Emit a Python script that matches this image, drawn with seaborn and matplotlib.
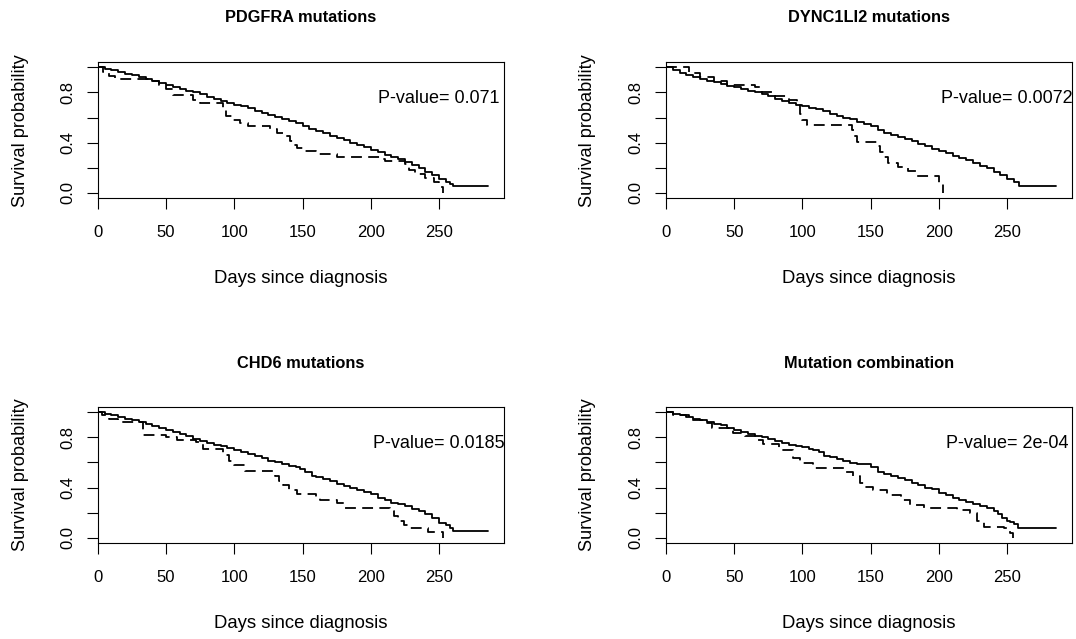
import matplotlib
matplotlib.use("Agg")
import matplotlib.pyplot as plt
import numpy as np
import pandas as pd
import seaborn as sns

# ---------------- data ----------------
titles = ["PDGFRA mutations", "DYNC1LI2 mutations", "CHD6 mutations", "Mutation combination"]
pvalues = ["0.071", "0.0072", "0.0185", "2e-04"]
x_ticks = [0, 50, 100, 150, 200, 250]
y_ticks = [0.0, 0.2, 0.4, 0.6, 0.8, 1.0]
y_tick_labels = ["0.0", "", "0.4", "", "0.8", ""]

# PDGFRA
pdgfra_wt_t = [0, 5, 10, 15, 20, 25, 30, 35, 40, 45, 50, 55, 60, 65, 70, 75, 80, 85, 90, 95, 100, 105, 110, 115,
               120, 125, 130, 135, 140, 145, 150, 155, 160, 165, 170, 175, 180, 185, 190, 195, 200, 205, 210, 215,
               220, 225, 230, 235, 240, 245, 250, 255, 258, 260, 286]
pdgfra_wt_s = [1.0, 0.99, 0.975, 0.96, 0.95, 0.935, 0.92, 0.905, 0.89, 0.875, 0.86, 0.845, 0.83, 0.815, 0.80,
               0.785, 0.765, 0.75, 0.735, 0.72, 0.70, 0.69, 0.675, 0.655, 0.64, 0.62, 0.605, 0.59, 0.575, 0.56,
               0.53, 0.51, 0.49, 0.475, 0.455, 0.44, 0.42, 0.40, 0.385, 0.365, 0.345, 0.325, 0.305, 0.29, 0.27,
               0.245, 0.225, 0.20, 0.17, 0.14, 0.11, 0.09, 0.07, 0.055, 0.055]
pdgfra_mut_t = [0, 4, 8, 13, 40, 45, 50, 55, 70, 75, 92, 94, 98, 104, 110, 126, 131, 138, 141, 144, 146, 152,
                160, 175, 195, 207, 210, 225, 228, 232, 240, 246, 250, 253]
pdgfra_mut_s = [1.0, 0.96, 0.93, 0.91, 0.89, 0.86, 0.83, 0.78, 0.74, 0.72, 0.66, 0.61, 0.58, 0.555, 0.535, 0.51,
                0.48, 0.45, 0.41, 0.38, 0.36, 0.335, 0.31, 0.29, 0.285, 0.27, 0.255, 0.23, 0.18, 0.15, 0.12, 0.09,
                0.05, 0.0]

# DYNC1LI2
dync_wt_t = [0, 5, 10, 15, 20, 25, 30, 35, 40, 45, 50, 55, 60, 65, 70, 75, 80, 85, 90, 95, 100, 105, 110, 115,
             120, 125, 130, 135, 140, 145, 150, 155, 160, 165, 170, 175, 180, 185, 190, 195, 200, 205, 210, 215,
             220, 225, 230, 235, 240, 245, 250, 255, 259, 286]
dync_wt_s = [1.0, 0.98, 0.955, 0.94, 0.925, 0.91, 0.895, 0.88, 0.865, 0.85, 0.84, 0.825, 0.815, 0.80, 0.79,
             0.77, 0.75, 0.735, 0.715, 0.70, 0.69, 0.68, 0.67, 0.65, 0.63, 0.615, 0.60, 0.585, 0.565, 0.55, 0.53,
             0.50, 0.48, 0.465, 0.445, 0.43, 0.41, 0.39, 0.37, 0.35, 0.335, 0.315, 0.295, 0.275, 0.26, 0.24,
             0.215, 0.195, 0.17, 0.145, 0.115, 0.085, 0.055, 0.055]
dync_mut_t = [0, 17, 25, 35, 45, 65, 70, 80, 90, 96, 98, 100, 103, 136, 138, 140, 155, 157, 160, 163, 170, 177,
              184, 200, 203]
dync_mut_s = [1.0, 0.955, 0.92, 0.89, 0.86, 0.84, 0.80, 0.775, 0.74, 0.70, 0.63, 0.58, 0.54, 0.50, 0.45, 0.405,
              0.37, 0.33, 0.29, 0.24, 0.21, 0.175, 0.135, 0.07, 0.0]

# CHD6
chd6_wt_t = [0, 5, 10, 15, 20, 25, 30, 35, 40, 45, 50, 55, 60, 65, 70, 75, 80, 85, 90, 95, 100, 105, 110, 115,
             120, 125, 130, 135, 140, 145, 148, 152, 157, 160, 165, 170, 175, 180, 185, 190, 195, 200, 205, 210,
             215, 220, 225, 230, 235, 240, 245, 250, 255, 258, 260, 286]
chd6_wt_s = [1.0, 0.99, 0.975, 0.96, 0.95, 0.935, 0.92, 0.905, 0.89, 0.875, 0.86, 0.84, 0.825, 0.81, 0.79,
             0.775, 0.755, 0.74, 0.73, 0.715, 0.70, 0.685, 0.67, 0.65, 0.635, 0.615, 0.60, 0.59, 0.575, 0.56,
             0.55, 0.52, 0.49, 0.485, 0.465, 0.45, 0.43, 0.415, 0.40, 0.38, 0.365, 0.345, 0.32, 0.30, 0.28,
             0.265, 0.25, 0.23, 0.21, 0.19, 0.16, 0.12, 0.10, 0.08, 0.055, 0.055]
chd6_mut_t = [0, 3, 8, 15, 33, 50, 58, 72, 77, 92, 96, 100, 108, 130, 133, 136, 140, 146, 160, 163, 175, 180,
              214, 217, 220, 224, 228, 242, 253]
chd6_mut_s = [1.0, 0.98, 0.95, 0.92, 0.82, 0.80, 0.78, 0.76, 0.71, 0.66, 0.61, 0.58, 0.53, 0.49, 0.45, 0.42,
              0.38, 0.35, 0.32, 0.30, 0.28, 0.24, 0.21, 0.17, 0.13, 0.10, 0.075, 0.045, 0.0]

# Mutation combination
combo_wt_t = [0, 5, 10, 15, 20, 25, 30, 35, 40, 45, 50, 55, 60, 65, 70, 75, 80, 85, 90, 95, 100, 105, 108, 112,
              116, 120, 125, 130, 135, 140, 147, 150, 155, 160, 165, 170, 175, 180, 185, 190, 195, 200, 205, 210,
              215, 220, 225, 230, 235, 240, 243, 246, 250, 252, 255, 258, 286]
combo_wt_s = [1.0, 0.985, 0.975, 0.96, 0.95, 0.935, 0.925, 0.91, 0.895, 0.875, 0.86, 0.845, 0.83, 0.815, 0.80,
              0.785, 0.77, 0.755, 0.74, 0.73, 0.72, 0.71, 0.70, 0.68, 0.65, 0.64, 0.625, 0.61, 0.595, 0.588,
              0.585, 0.56, 0.52, 0.505, 0.49, 0.475, 0.46, 0.44, 0.42, 0.40, 0.385, 0.36, 0.34, 0.32, 0.30,
              0.285, 0.265, 0.25, 0.235, 0.215, 0.19, 0.155, 0.135, 0.125, 0.11, 0.08, 0.08]
combo_mut_t = [0, 5, 17, 29, 34, 49, 58, 66, 71, 83, 93, 98, 108, 132, 137, 142, 145, 152, 162, 172, 179, 189,
               213, 223, 228, 233, 248, 252, 254]
combo_mut_s = [1.0, 0.975, 0.935, 0.915, 0.875, 0.835, 0.81, 0.78, 0.75, 0.70, 0.635, 0.595, 0.555, 0.525, 0.49,
               0.44, 0.405, 0.38, 0.34, 0.30, 0.26, 0.24, 0.22, 0.195, 0.13, 0.085, 0.075, 0.035, 0.0]

curves = [
    (pdgfra_wt_t, pdgfra_wt_s, pdgfra_mut_t, pdgfra_mut_s),
    (dync_wt_t, dync_wt_s, dync_mut_t, dync_mut_s),
    (chd6_wt_t, chd6_wt_s, chd6_mut_t, chd6_mut_s),
    (combo_wt_t, combo_wt_s, combo_mut_t, combo_mut_s),
]

# ---------------- style ----------------
sns.set_theme(style="ticks")
plt.rcParams["font.family"] = ["Liberation Sans", "DejaVu Sans"]
plt.rcParams["text.color"] = "black"
plt.rcParams["axes.labelcolor"] = "black"
plt.rcParams["xtick.color"] = "black"
plt.rcParams["ytick.color"] = "black"

W, H = 1076, 639
fig = plt.figure(figsize=(W / 100, H / 100), dpi=100)
fig.patch.set_facecolor("white")

# pixel boxes: (left, right, top, bottom)
boxes = [(97.7, 504, 62.3, 198.0), (666, 1072, 62.3, 198.0),
         (97.7, 504, 407.3, 542.7), (666, 1072, 407.3, 542.7)]
title_px = [17, 17, 363, 363]
xlabel_px = [279, 279, 623, 623]
ylabel_px = [21, 588, 21, 588]

for i, (l, r, t, b) in enumerate(boxes):
    ax = fig.add_axes([l / W, 1 - b / H, (r - l) / W, (b - t) / H])
    wt_t, wt_s, mut_t, mut_s = curves[i]
    df_wt = pd.DataFrame({"time": wt_t, "surv": wt_s})
    df_mut = pd.DataFrame({"time": mut_t, "surv": mut_s})
    sns.lineplot(data=df_wt, x="time", y="surv", ax=ax, color="black", lw=1.3,
                 drawstyle="steps-post", estimator=None, sort=False)
    sns.lineplot(data=df_mut, x="time", y="surv", ax=ax, color="black", lw=1.3,
                 drawstyle="steps-post", estimator=None, sort=False, linestyle=(0, (6, 3.5)))
    ax.set_xlim(0, 297.5)
    ax.set_ylim(-0.04, 1.04)
    ax.set_xticks(x_ticks)
    ax.set_xticklabels([str(v) for v in x_ticks])
    ax.set_yticks(y_ticks)
    ax.set_yticklabels(y_tick_labels, rotation=90, va="center")
    ax.tick_params(axis="both", direction="out", length=7.9, width=0.8, labelsize=12, colors="black")
    ax.tick_params(axis="x", pad=11.5)
    ax.tick_params(axis="y", pad=8.5)
    for sp in ax.spines.values():
        sp.set_visible(True)
        sp.set_color("black")
        sp.set_linewidth(0.8)
    hpx = b - t
    wpx = r - l
    ax.set_xlabel("Days since diagnosis", fontsize=13.3)
    ax.xaxis.set_label_coords(0.5, (b - xlabel_px[i]) / hpx)
    ax.xaxis.label.set_va("center")
    ax.set_ylabel("Survival probability", fontsize=13.1)
    ax.yaxis.set_label_coords((ylabel_px[i] - l) / wpx, 0.5)
    ax.yaxis.label.set_va("center")
    ax.text(0.5, (b - title_px[i]) / hpx, titles[i], transform=ax.transAxes, ha="center", va="center",
            fontsize=11.8, fontweight="bold")
    ax.text(250, 0.75, "P-value= " + pvalues[i], ha="center", va="center", fontsize=13)

fig.savefig("out.png", dpi=100, facecolor="white")
